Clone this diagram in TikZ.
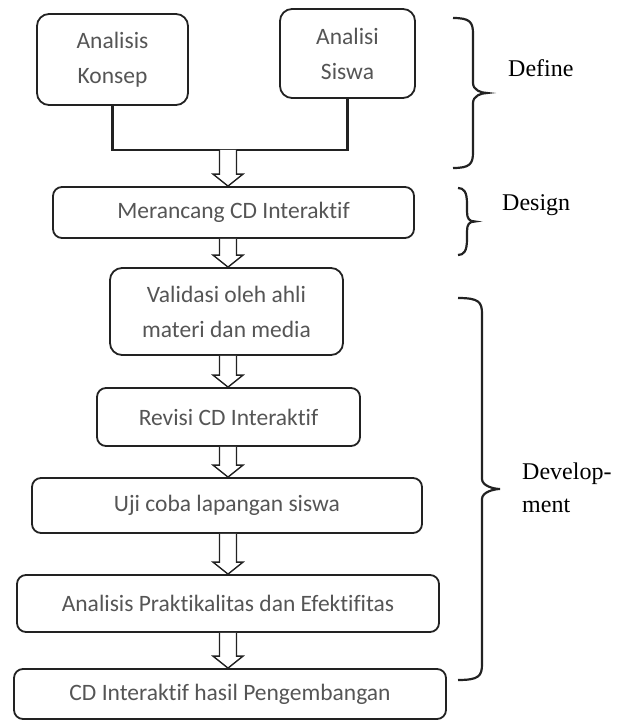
\documentclass[tikz,border=0pt]{standalone}
\usepackage{fontspec}
\setmainfont{Liberation Serif}
\newfontfamily\boxfont[Ligatures=NoCommon]{Carlito}
\usetikzlibrary{calc}
\definecolor{boxtext}{HTML}{555555}
\definecolor{linec}{HTML}{222222}
\tikzset{
  stage/.style={draw=linec, line width=1.8pt, rounded corners=9pt, align=center,
    font=\boxfont\fontsize{23.5}{35}\selectfont, text=boxtext, inner sep=0pt},
  conn/.style={draw=linec, line width=2.6pt},
  harr/.style={draw=linec, line width=1.4pt, fill=white, line join=miter},
  bracestyle/.style={draw=linec, line width=2.2pt},
  phase/.style={font=\fontsize{24}{33}\selectfont, anchor=base west, inner sep=0pt, align=left}
}
\newcommand{\harrow}[2]{%
  \path (#1 -| ax) coordinate (hs) (#2 -| ax) coordinate (he);
  \draw[harr] ($(hs)+(-8.5,0)$) -- ($(he)+(-8.5,-12)$) -- ($(he)+(-15,-12)$) -- (he)
     -- ($(he)+(15,-12)$) -- ($(he)+(8.5,-12)$) -- ($(hs)+(8.5,0)$);
}
\newcommand{\cbrace}[5]{% top, bottom, xend, xline, xtip
  \pgfmathsetmacro{\bmid}{(#1+#2)/2}
  \draw[bracestyle] (#3,#1) .. controls (#4-3,#1) and (#4,#1+4) .. (#4,#1+16)
    -- (#4,\bmid-10) .. controls (#4,\bmid-3) and (#5-6,\bmid) .. (#5,\bmid)
    .. controls (#5-6,\bmid) and (#4,\bmid+3) .. (#4,\bmid+10)
    -- (#4,#2-16) .. controls (#4,#2-4) and (#4-3,#2) .. (#3,#2);
}
\begin{document}
\begin{tikzpicture}[x=1pt,y=-1pt]
\useasboundingbox (0,0) rectangle (621,722);
\coordinate (ax) at (228,0);

\node[stage, rounded corners=12pt, minimum width=151pt, minimum height=91pt] (k1) at (112.5,59.5) {Analisis\\Konsep};
\node[stage, rounded corners=12pt, minimum width=135pt, minimum height=89pt] (k2) at (347.5,53.5) {Analisi\\Siswa};
\node[stage, minimum width=361pt, minimum height=51pt] (m) at (233.5,212.5) {Merancang CD Interaktif};
\node[stage, rounded corners=12pt, minimum width=233pt, minimum height=87pt] (v) at (226.5,311.5) {Validasi oleh ahli\\materi dan media};
\node[stage, minimum width=263pt, minimum height=58pt] (r) at (228.5,417) {Revisi CD Interaktif};
\node[stage, minimum width=390pt, minimum height=55pt] (u) at (227,505.5) {Uji coba lapangan siswa};
\node[stage, minimum width=422pt, minimum height=57pt] (a) at (228,603.5) {Analisis Praktikalitas dan Efektifitas};
\node[stage, minimum width=432pt, minimum height=50pt] (cd) at (230,694) {CD Interaktif hasil Pengembangan};

\coordinate (jn) at (228,150);
\draw[conn] (k1.south) |- (jn) -| (k2.south);

\harrow{jn}{m.north}
\harrow{m.south}{v.north}
\harrow{v.south}{r.north}
\harrow{r.south}{u.north}
\harrow{u.south}{a.north}
\harrow{a.south}{cd.north}

\cbrace{18}{168}{453}{473}{487}
\cbrace{188}{255}{458}{467}{475}
\cbrace{298}{680}{458}{482}{500}

\node[phase] (ldef) at (508,77) {Define};
\node[phase] (ldes) at (502,210) {Design};
\node[phase] (ldev) at (522,512) {Develop-\\ment};
\end{tikzpicture}
\end{document}
